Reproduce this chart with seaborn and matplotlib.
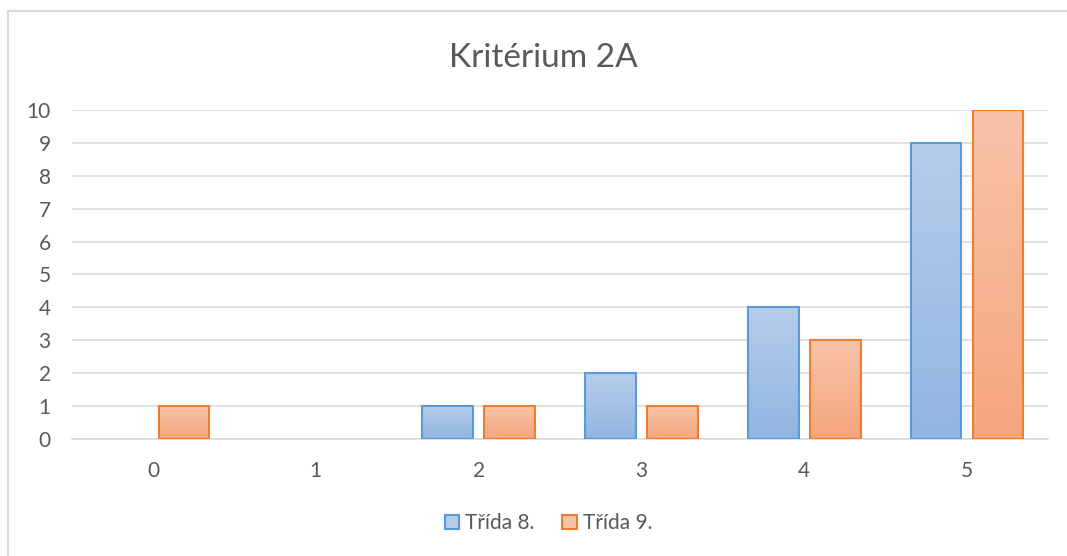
import numpy as np
import pandas as pd
import matplotlib.pyplot as plt
import matplotlib.colors as mcolors
from matplotlib.patches import Patch, Rectangle
import seaborn as sns

categories = ['0', '1', '2', '3', '4', '5']
trida8 = [0, 0, 1, 2, 4, 9]
trida9 = [1, 0, 1, 1, 3, 10]
series_names = ['Třída 8.', 'Třída 9.']

df = pd.DataFrame({
    'kategorie': categories * 2,
    'pocet': trida8 + trida9,
    'trida': [series_names[0]] * len(categories) + [series_names[1]] * len(categories),
})

# (top colour, bottom colour, edge colour) per series
styles = {
    series_names[0]: ('#b6cdea', '#91b5e2', '#5b9bd5'),
    series_names[1]: ('#f9c3a9', '#f5a57d', '#ed7d31'),
}
text_col = '#595959'
grid_col = '#d9d9d9'

sns.set_theme(style='white')
plt.rcParams['font.family'] = ['Lato', 'DejaVu Sans']

fig = plt.figure(figsize=(10.67, 5.56), dpi=100)
ax = fig.add_axes([0.0671, 0.2104, 0.9155, 0.5918])

sns.barplot(data=df, x='kategorie', y='pocet', hue='trida', order=categories,
            hue_order=series_names, palette=[styles[s][1] for s in series_names],
            width=0.76, gap=0.18, ax=ax, legend=False)

# gradient fill like the Excel original
grad = np.linspace(0, 1, 256).reshape(-1, 1)
for name, cont in zip(series_names, ax.containers):
    top, bottom, edge = styles[name]
    cmap = mcolors.LinearSegmentedColormap.from_list(name, [top, bottom])
    for bar in cont:
        h = bar.get_height()
        if h <= 0:
            bar.set_visible(False)
            continue
        x0, w = bar.get_x(), bar.get_width()
        im = ax.imshow(grad, cmap=cmap, aspect='auto', extent=(x0, x0 + w, 0, h),
                       origin='upper', zorder=2)
        im.set_clip_path(bar)
        bar.set_facecolor('none')
        bar.set_edgecolor(edge)
        bar.set_linewidth(1.5)
        bar.set_zorder(3)

ax.set_xlim(-0.5, len(categories) - 0.5)
ax.set_ylim(0, 10)
ax.set_yticks(range(0, 11))
ax.yaxis.grid(True, color=grid_col, linewidth=1.1)
ax.set_axisbelow(True)
for side in ['left', 'right', 'top']:
    ax.spines[side].set_visible(False)
ax.spines['bottom'].set_color(grid_col)
ax.spines['bottom'].set_linewidth(1.1)
ax.tick_params(axis='both', length=0, labelsize=15, colors=text_col)
ax.tick_params(axis='y', pad=15)
ax.tick_params(axis='x', pad=16)
ax.set_xlabel('')
ax.set_ylabel('')

fig.text(0.509, 0.895, 'Kritérium 2A', ha='center', va='center', fontsize=24, color=text_col)

handles = [Patch(facecolor=styles[s][0], edgecolor=styles[s][2], linewidth=1.5) for s in series_names]
leg = fig.legend(handles, series_names, loc='center', bbox_to_anchor=(0.514, 0.059), ncol=2,
                 frameon=False, fontsize=15, handlelength=0.7, handleheight=0.7,
                 handletextpad=0.3, columnspacing=1.3)
for t in leg.get_texts():
    t.set_color(text_col)

# chart area border
fig.patches.append(Rectangle((8 / 1067, -0.05), 1.1, (556 - 11) / 556 + 0.05,
                             transform=fig.transFigure, fill=False,
                             edgecolor=grid_col, linewidth=1.5))

fig.savefig('out.png', dpi=100)
